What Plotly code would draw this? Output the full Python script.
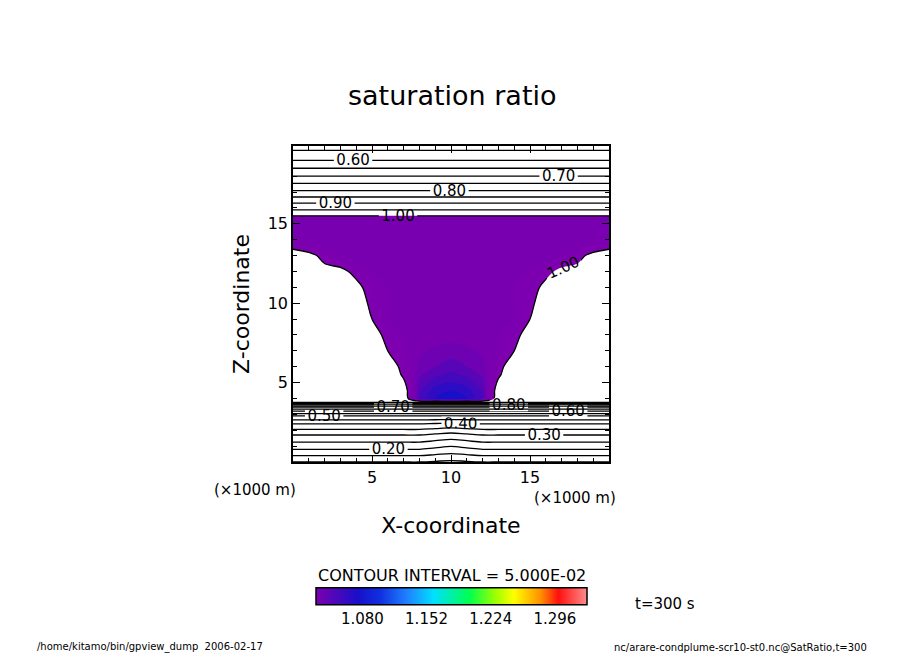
import numpy as np
import plotly.graph_objects as go

# x positions of grid columns (km), left half; right half is the mirror image
x_half = [0, 1, 2, 3, 4, 5, 6, 7, 8, 9, 10]
# heights of grid rows (km)
z_km = [0, 0.8, 1.7, 2.4, 2.9, 3.2, 3.45, 3.6, 3.7, 3.8, 4.0, 4.5, 5.0, 5.5, 6, 7, 8, 9,
        10, 11, 12, 12.5, 13, 13.4, 14, 15.4, 15.6, 15.8, 16.3, 17, 18, 19, 20]
# saturation ratio, one row per height, columns x_half
s_rows = [
    [0.10, 0.10, 0.10, 0.10, 0.10, 0.10, 0.10, 0.10, 0.10, 0.095, 0.09],
    [0.20, 0.20, 0.20, 0.20, 0.20, 0.20, 0.20, 0.20, 0.20, 0.19, 0.18],
    [0.30, 0.30, 0.30, 0.30, 0.30, 0.30, 0.30, 0.30, 0.30, 0.29, 0.28],
    [0.40, 0.40, 0.40, 0.40, 0.40, 0.40, 0.40, 0.40, 0.40, 0.395, 0.39],
    [0.50, 0.50, 0.50, 0.50, 0.50, 0.50, 0.50, 0.50, 0.50, 0.50, 0.50],
    [0.60, 0.60, 0.60, 0.60, 0.60, 0.60, 0.60, 0.60, 0.60, 0.60, 0.60],
    [0.70, 0.70, 0.70, 0.70, 0.70, 0.70, 0.70, 0.70, 0.70, 0.70, 0.70],
    [0.80, 0.80, 0.80, 0.80, 0.80, 0.80, 0.80, 0.80, 0.80, 0.80, 0.80],
    [0.90, 0.90, 0.90, 0.90, 0.90, 0.90, 0.90, 0.90, 0.90, 0.90, 0.90],
    [0.99, 0.99, 0.99, 0.99, 0.99, 0.99, 0.99, 0.99, 0.99, 0.99, 0.99],
    [0.97, 0.97, 0.97, 0.97, 0.97, 0.97, 0.97, 0.98, 1.05, 1.07, 1.075],
    [0.97, 0.97, 0.97, 0.97, 0.97, 0.97, 0.97, 0.985, 1.048, 1.065, 1.07],
    [0.97, 0.97, 0.97, 0.97, 0.97, 0.97, 0.97, 0.995, 1.043, 1.055, 1.06],
    [0.97, 0.97, 0.97, 0.97, 0.97, 0.97, 0.975, 1.005, 1.038, 1.048, 1.052],
    [0.97, 0.97, 0.97, 0.97, 0.97, 0.97, 0.98, 1.01, 1.033, 1.04, 1.045],
    [0.97, 0.97, 0.97, 0.97, 0.97, 0.97, 1.00, 1.02, 1.028, 1.032, 1.035],
    [0.97, 0.97, 0.97, 0.97, 0.97, 0.985, 1.01, 1.02, 1.022, 1.024, 1.025],
    [0.97, 0.97, 0.97, 0.97, 0.97, 1.00, 1.02, 1.02, 1.02, 1.02, 1.02],
    [0.97, 0.97, 0.97, 0.97, 0.975, 1.01, 1.02, 1.02, 1.02, 1.02, 1.02],
    [0.97, 0.97, 0.97, 0.98, 0.99, 1.015, 1.02, 1.02, 1.02, 1.02, 1.02],
    [0.97, 0.97, 0.98, 0.99, 1.01, 1.02, 1.02, 1.02, 1.02, 1.02, 1.02],
    [0.97, 0.98, 1.00, 1.01, 1.02, 1.02, 1.02, 1.02, 1.02, 1.02, 1.02],
    [0.98, 0.99, 1.01, 1.02, 1.02, 1.02, 1.02, 1.02, 1.02, 1.02, 1.02],
    [1.00, 1.01, 1.02, 1.02, 1.02, 1.02, 1.02, 1.02, 1.02, 1.02, 1.02],
    [1.02, 1.02, 1.02, 1.02, 1.02, 1.02, 1.02, 1.02, 1.02, 1.02, 1.02],
    [1.02, 1.02, 1.02, 1.02, 1.02, 1.02, 1.02, 1.02, 1.02, 1.02, 1.02],
    [0.98, 0.98, 0.98, 0.98, 0.98, 0.98, 0.98, 0.98, 0.98, 0.98, 0.98],
    [0.96, 0.96, 0.96, 0.96, 0.96, 0.96, 0.96, 0.96, 0.96, 0.96, 0.96],
    [0.90, 0.90, 0.90, 0.90, 0.90, 0.90, 0.90, 0.90, 0.90, 0.90, 0.90],
    [0.81, 0.81, 0.81, 0.81, 0.81, 0.81, 0.81, 0.81, 0.81, 0.81, 0.81],
    [0.70, 0.70, 0.70, 0.70, 0.70, 0.70, 0.70, 0.70, 0.70, 0.70, 0.70],
    [0.60, 0.60, 0.60, 0.60, 0.60, 0.60, 0.60, 0.60, 0.60, 0.60, 0.60],
    [0.52, 0.52, 0.52, 0.52, 0.52, 0.52, 0.52, 0.52, 0.52, 0.52, 0.52],
]
cbar_ticks = [1.080, 1.152, 1.224, 1.296]
# colour table: value -> colour
tone_vals = [1.00, 1.03, 1.075, 1.10, 1.13, 1.16, 1.20, 1.23, 1.25, 1.28, 1.30, 1.34]
tone_cols = ["#8000b0", "#7800b0", "#1810c8", "#1030e0", "#2080ff", "#00e0ff",
             "#00ff50", "#a0ff00", "#ffff00", "#ff9000", "#ff1010", "#ff8c8c"]

# mirror the half grid around x = 10 km
x_km = x_half + [20 - v for v in reversed(x_half[:-1])]
s = np.array(s_rows)
field = np.hstack([s, s[:, -2::-1]])

# filled tones only above 1.0 (white below); plotly maps the colour scale
# onto [start - size/2, start + (n - 1/2) * size]
f_start, f_size, f_end = 0.9899, 0.01, 1.3399
n_lev = int(np.floor((f_end - f_start) / f_size)) + 1
lo = f_start - f_size / 2


def frac(v):
    return min(1.0, max(0.0, (v - lo) / (n_lev * f_size)))


fill_scale = [[0, "white"], [frac(0.9995), "white"]]
fill_scale += [[frac(max(v, 1.0005)), c] for v, c in zip(tone_vals, tone_cols)]
fill_scale[-1][0] = 1.0

cb_min, cb_max = 1.028, 1.332
bar_scale = [[0, "#7900b0"]]
bar_scale += [[(v - cb_min) / (cb_max - cb_min), c] for v, c in zip(tone_vals, tone_cols)
              if cb_min < v < cb_max]
bar_scale += [[1, "#ff8c8c"]]

fig = go.Figure()
fig.add_trace(go.Contour(
    x=x_km, y=z_km, z=field, colorscale=fill_scale,
    contours=dict(start=f_start, end=f_end, size=f_size, coloring="fill", showlines=False),
    line_width=0, showscale=False, hoverinfo="skip",
))
line_font = dict(size=15, color="black", family="DejaVu Sans")
# unlabelled lines at 0.05, 0.15, ...
fig.add_trace(go.Contour(
    x=x_km, y=z_km, z=field,
    contours=dict(start=0.05, end=0.96, size=0.1, coloring="lines"),
    colorscale=[[0, "black"], [1, "black"]], line=dict(width=1.3),
    showscale=False, hoverinfo="skip",
))
# labelled lines at 0.10, 0.20, ... 1.00
fig.add_trace(go.Contour(
    x=x_km, y=z_km, z=field,
    contours=dict(start=0.1, end=1.0, size=0.1, coloring="lines", showlabels=True,
                  labelformat=".2f", labelfont=line_font),
    colorscale=[[0, "black"], [1, "black"]], line=dict(width=1.3),
    showscale=False, hoverinfo="skip",
))
fig.add_trace(go.Scatter(
    x=[None], y=[None], mode="markers", showlegend=False,
    marker=dict(colorscale=bar_scale, cmin=cb_min, cmax=cb_max, color=[1.1], showscale=True,
                colorbar=dict(orientation="h", x=451.5 / 904, xanchor="center",
                              y=1 - 605.5 / 654, yanchor="middle",
                              len=271 / 904, lenmode="fraction", thickness=17, xpad=0, ypad=0,
                              outlinewidth=1.5, outlinecolor="black",
                              tickvals=cbar_ticks, ticktext=[f"{v:.3f}" for v in cbar_ticks],
                              ticks="", tickfont=dict(size=15, color="black"))),
))

axis_common = dict(showline=True, linewidth=1.5, linecolor="black", mirror="allticks",
                   ticks="inside", ticklen=7, tickcolor="black", showgrid=False, zeroline=False,
                   tickfont=dict(size=16, color="black"),
                   minor=dict(ticks="inside", ticklen=4, dtick=1, tickcolor="black"))
fig.update_xaxes(range=[0, 20], domain=[293 / 904, 609 / 904], tickvals=[5, 10, 15],
                 title=dict(text="X-coordinate", font=dict(size=22), standoff=32), **axis_common)
fig.update_yaxes(range=[0, 19.9], domain=[1 - 462 / 654, 1 - 146 / 654], tickvals=[5, 10, 15],
                 title=dict(text="Z-coordinate", font=dict(size=22), standoff=12), **axis_common)

ann = [
    dict(x=452, y=95, text="saturation ratio", font=dict(size=27)),
    dict(x=255, y=490, text="(×1000 m)", font=dict(size=15)),
    dict(x=575, y=498, text="(×1000 m)", font=dict(size=15)),
    dict(x=452, y=575, text="CONTOUR INTERVAL = 5.000E-02", font=dict(size=16)),
    dict(x=665, y=604, text="t=300 s", font=dict(size=15)),
    dict(x=150, y=647, text="/home/kitamo/bin/gpview_dump  2006-02-17", font=dict(size=10)),
    dict(x=740, y=647, text="nc/arare-condplume-scr10-st0.nc@SatRatio,t=300", font=dict(size=10)),
]
for a in ann:
    fig.add_annotation(xref="paper", yref="paper", x=a["x"] / 904, y=1 - a["y"] / 654,
                       xanchor="center", yanchor="middle", text=a["text"], font=a["font"],
                       showarrow=False)

fig.update_layout(
    width=904, height=654, margin=dict(l=0, r=0, t=0, b=0),
    plot_bgcolor="white", paper_bgcolor="white", showlegend=False,
    font=dict(family="DejaVu Sans", color="black"),
)

fig.write_html("out.html", config={"displayModeBar": False},
               post_script="document.body.style.margin='0';")
